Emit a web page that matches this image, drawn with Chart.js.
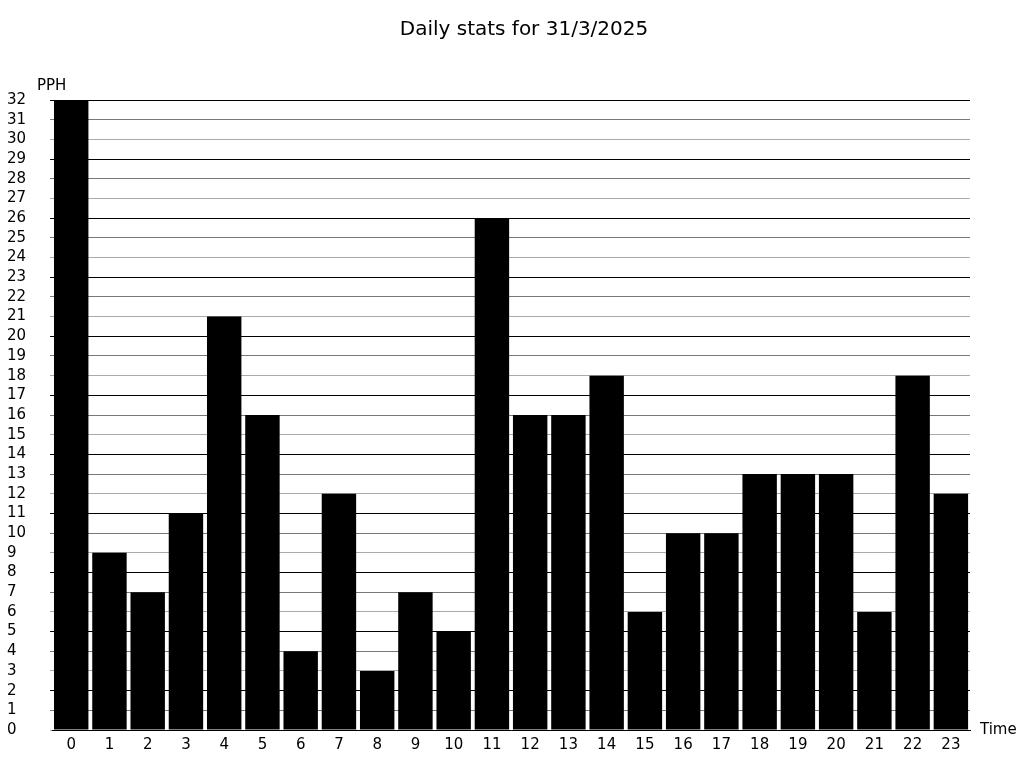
<!DOCTYPE html>
<html>
<head>
    <meta charset="UTF-8">
    <title>Daily stats</title>
    <script src="https://cdn.jsdelivr.net/npm/chart.js@4/dist/chart.umd.min.js"></script>
    <style>
        body { margin: 0; background: #fff; }
        #wrap { width: 1024px; height: 768px; position: relative; }
    </style>
</head>
<body>
<div id="wrap"><canvas id="chart"></canvas></div>
<script>
    // hours of the day and pages per hour
    const hours = ['0','1','2','3','4','5','6','7','8','9','10','11','12','13','14','15','16','17','18','19','20','21','22','23'];
    const pph = [32, 9, 7, 11, 21, 16, 4, 12, 3, 7, 5, 26, 16, 16, 18, 6, 10, 10, 13, 13, 13, 6, 18, 12];
    const chartTitle = 'Daily stats for 31/3/2025';
    const yLabel = 'PPH';
    const xLabel = 'Time';

    const FONT = 'DejaVu Sans';

    // title and axis names are placed like in the original (title a bit right of centre,
    // axis names flat at the ends of the axes)
    const labelsPlugin = {
        id: 'labelsPlugin',
        afterDraw(chart) {
            const ctx = chart.ctx;
            const area = chart.chartArea;
            ctx.save();
            ctx.fillStyle = '#000';
            ctx.textBaseline = 'middle';
            ctx.font = '20px ' + FONT;
            ctx.textAlign = 'center';
            ctx.fillText(chartTitle, 524, 30);
            ctx.font = '15px ' + FONT;
            ctx.textAlign = 'left';
            ctx.fillText(yLabel, 37, area.top - 14);
            ctx.fillText(xLabel, area.right + 10, area.bottom);
            ctx.restore();
        }
    };

    new Chart(document.getElementById('chart'), {
        type: 'bar',
        data: {
            labels: hours,
            datasets: [{
                data: pph,
                backgroundColor: '#000',
                borderWidth: 0,
                barPercentage: 0.9,
                categoryPercentage: 1.0
            }]
        },
        options: {
            responsive: true,
            maintainAspectRatio: false,
            animation: false,
            layout: { padding: { left: 7, right: 54, top: 100, bottom: 8 } },
            plugins: {
                legend: { display: false },
                tooltip: { enabled: false },
                title: { display: false }
            },
            scales: {
                x: {
                    grid: { display: false, drawTicks: false, tickLength: 0 },
                    border: { display: true, color: '#000', width: 1 },
                    ticks: { color: '#000', font: { family: FONT, size: 15 }, padding: 6, maxRotation: 0, autoSkip: false }
                },
                y: {
                    min: 0,
                    max: 32,
                    border: { display: false },
                    grid: {
                        color: ctx => ['#000', '#777', '#aaa'][(32 - ctx.tick.value) % 3],
                        lineWidth: 1,
                        tickLength: 2,
                        drawTicks: true
                    },
                    ticks: {
                        stepSize: 1,
                        autoSkip: false,
                        color: '#000',
                        crossAlign: 'far',
                        padding: 12,
                        font: { family: FONT, size: 15 }
                    }
                }
            }
        },
        plugins: [labelsPlugin]
    });
</script>
</body>
</html>
